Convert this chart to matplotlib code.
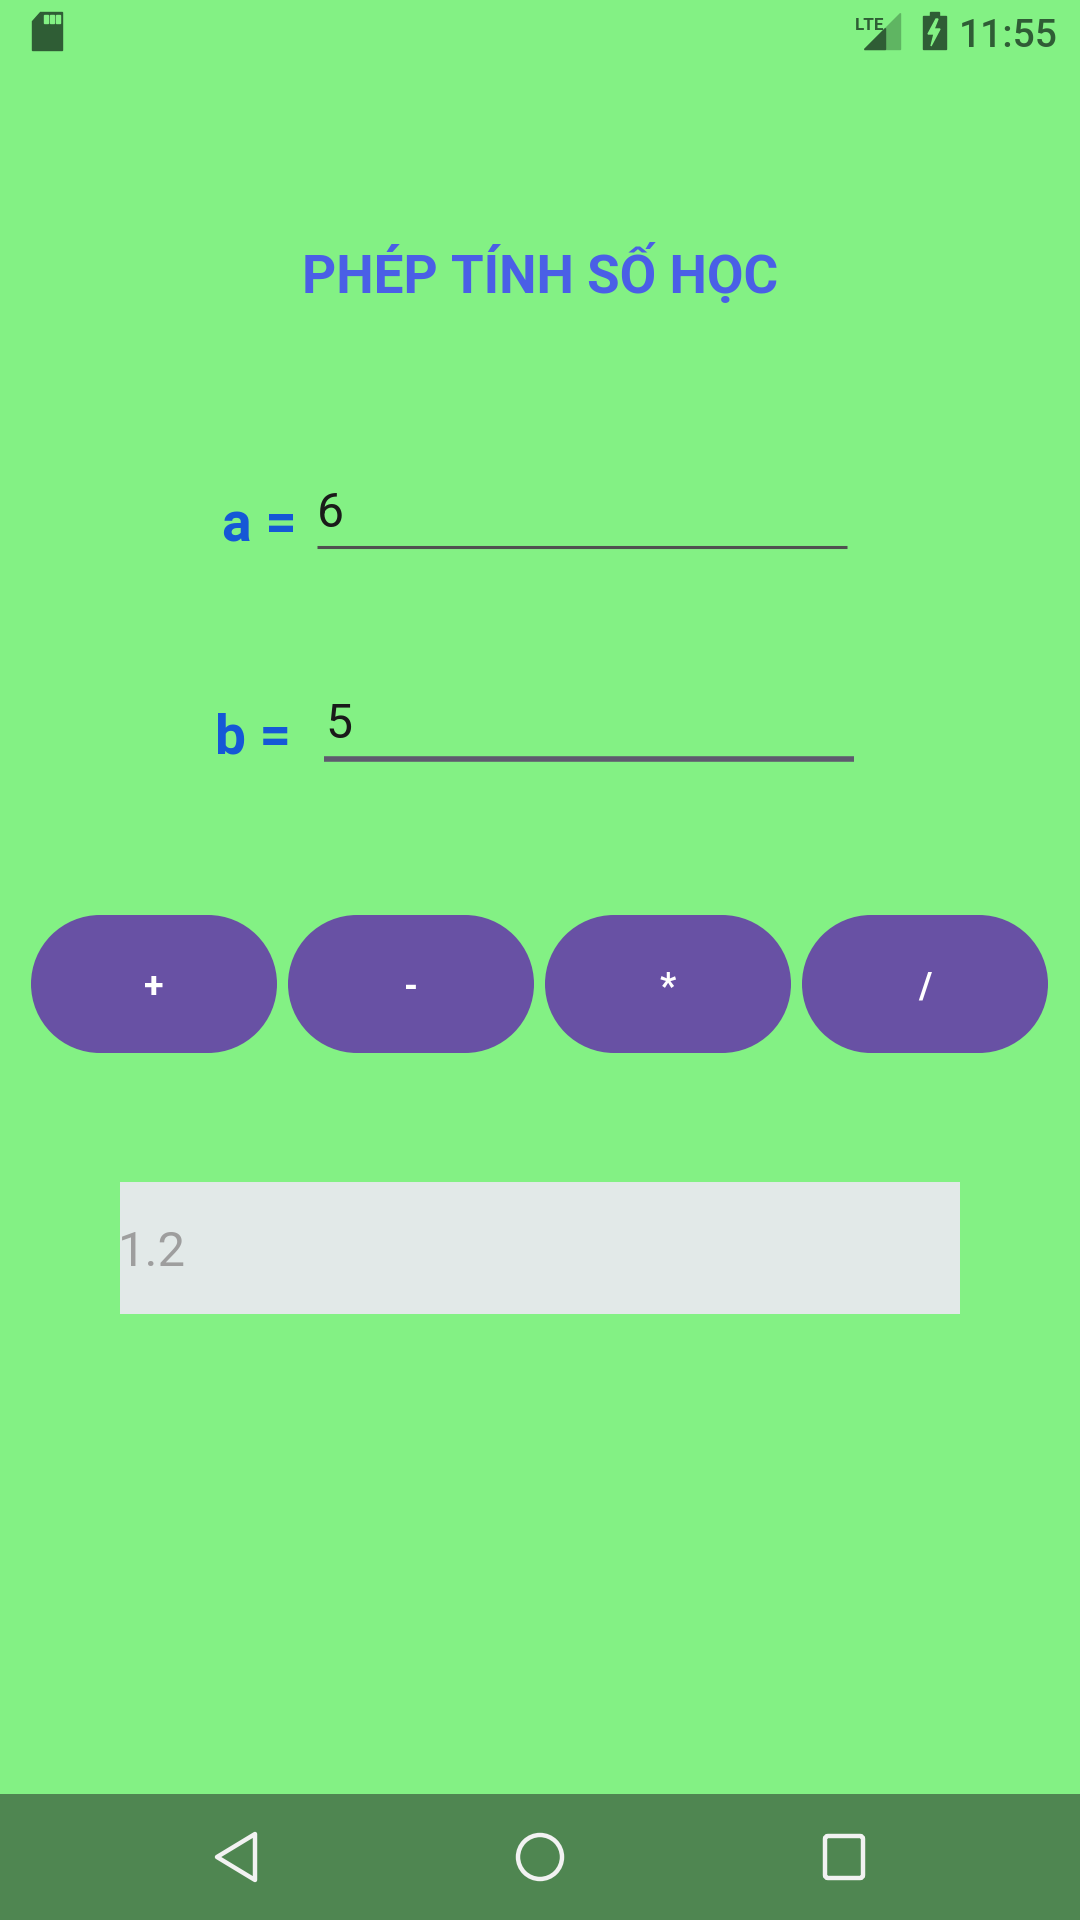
import matplotlib
matplotlib.use('Agg')
import matplotlib.pyplot as plt
from matplotlib.patches import FancyBboxPatch, Rectangle, Polygon, Circle

plt.rcParams['font.family'] = ['Roboto', 'DejaVu Sans']

# screen content
title = 'PHÉP TÍNH SỐ HỌC'
field_labels = ['a =', 'b =']
field_values = ['6', '5']
button_labels = ['+', '-', '*', '/']
result_text = '1.2'
clock = '11:55'

W, H = 1080, 1920
BG = '#83f184'
NAV = '#4f8651'
ICON = '#2f5d35'
BTN = '#6851a4'

fig = plt.figure(figsize=(W / 100, H / 100), dpi=100)
fig.patch.set_facecolor(BG)
ax = fig.add_axes([0, 0, 1, 1])
ax.set_xlim(0, W)
ax.set_ylim(H, 0)
ax.axis('off')


def px(size):
    # font size in pixels -> points
    return size * 0.72


# status bar
sd = Polygon([(40, 12), (62, 12), (62, 50), (32, 50), (32, 21)], closed=True, color=ICON)
ax.add_patch(sd)
for sx in (44, 50, 56):
    ax.add_patch(Rectangle((sx, 15), 3.5, 8, color=BG))
ax.text(855, 30, 'LTE', fontsize=px(17), color=ICON, fontweight='bold',
        ha='left', va='baseline', fontstretch='condensed')
ax.add_patch(Polygon([(864, 49), (900, 49), (900, 13)], closed=True, color='#5fb562'))
ax.add_patch(Polygon([(864, 49), (885, 49), (885, 28)], closed=True, color=ICON))
ax.add_patch(Rectangle((923, 16), 23, 33, color=ICON))
ax.add_patch(Rectangle((930, 12), 9, 5, color=ICON))
ax.add_patch(Polygon([(936, 19), (928, 34), (934, 34), (931, 46), (940, 29), (934, 29), (938, 19)],
                     closed=True, color=BG))
ax.text(1058, 47, clock, fontsize=px(39), color=ICON, fontweight='medium',
        ha='right', va='baseline')

# title
ax.text(540, 293, title, fontsize=px(53), color='#4a5fe6', fontweight='bold',
        ha='center', va='baseline')

# input fields
label_x = [222, 215]
label_y = [542, 753]
value_x = [317, 325]
value_y = [527, 738]
line_x = [(317, 847), (324, 854)]
line_y = [547, 759]
line_w = [2.2, 4.0]
line_c = ['#505050', '#5e5a6e']
for i in range(2):
    ax.text(label_x[i], label_y[i], field_labels[i], fontsize=px(55), color='#1558d6',
            fontweight='bold', ha='left', va='baseline')
    ax.text(value_x[i], value_y[i], field_values[i], fontsize=px(48), color='#1a1a1a',
            ha='left', va='baseline')
    ax.plot(line_x[i], [line_y[i], line_y[i]], color=line_c[i], lw=line_w[i],
            solid_capstyle='butt')

# operation buttons (pill shape: body + two round ends)
btn_left = [31, 288, 545, 802]
btn_w, btn_top, btn_h = 246, 915, 138
r = btn_h / 2
for bx, lab in zip(btn_left, button_labels):
    ax.add_patch(Rectangle((bx + r, btn_top), btn_w - 2 * r, btn_h, facecolor=BTN,
                           edgecolor='none'))
    ax.add_patch(Circle((bx + r, btn_top + r), r, facecolor=BTN, edgecolor='none'))
    ax.add_patch(Circle((bx + btn_w - r, btn_top + r), r, facecolor=BTN, edgecolor='none'))
    ax.text(bx + btn_w / 2, btn_top + btn_h / 2 + 4, lab, fontsize=px(36), color='white',
            fontweight='bold', ha='center', va='center')

# result box
ax.add_patch(Rectangle((120, 1182), 840, 132, facecolor='#e2e9e8', edgecolor='none'))
ax.text(118, 1266, result_text, fontsize=px(49), color='#9e9e9e', ha='left', va='baseline')

# navigation bar
ax.add_patch(Rectangle((0, 1794), W, H - 1794, facecolor=NAV, edgecolor='none'))
ax.add_patch(Polygon([(255, 1834), (255, 1880), (217, 1857)], closed=True, fill=False,
                     edgecolor='#f2f2f2', lw=3.2, joinstyle='round'))
ax.add_patch(Circle((540, 1857), 22, fill=False, edgecolor='#f2f2f2', lw=3.2))
ax.add_patch(FancyBboxPatch((825, 1836), 38, 42, boxstyle='round,pad=0,rounding_size=3',
                            fill=False, edgecolor='#f2f2f2', lw=3.2))

fig.savefig('out.png', dpi=100, facecolor=BG)
